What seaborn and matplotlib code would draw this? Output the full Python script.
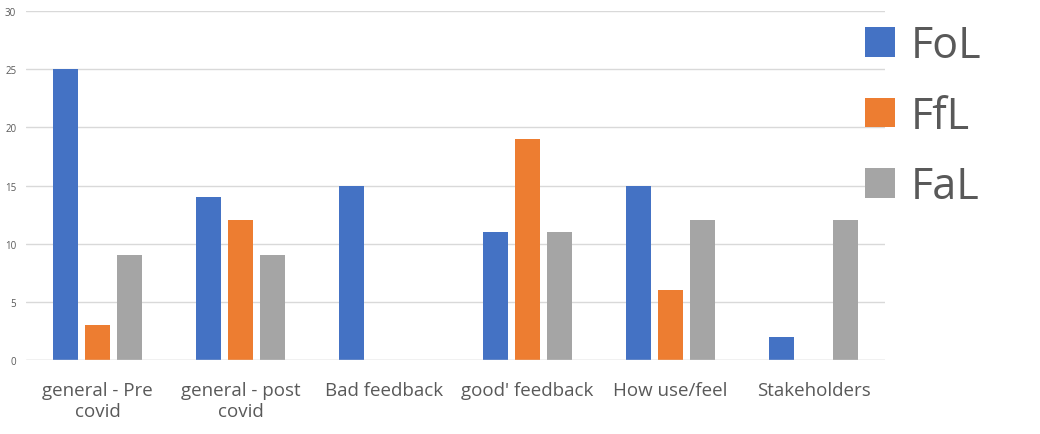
import seaborn as sns
import matplotlib.pyplot as plt
import pandas as pd

# chart values
categories = ["general - Pre\ncovid", "general - post\ncovid", "Bad feedback",
              "good' feedback", "How use/feel", "Stakeholders"]
series = ["FoL", "FfL", "FaL"]
fol = [25, 14, 15, 11, 15, 2]
ffl = [3, 12, 0, 19, 6, 0]
fal = [9, 9, 0, 11, 12, 12]
colors = ["#4472C4", "#ED7D31", "#A5A5A5"]

df = pd.DataFrame({
    "category": categories * 3,
    "series": [s for s in series for _ in categories],
    "value": fol + ffl + fal,
})

sns.set_theme(style="white")
plt.rcParams["font.family"] = ["Open Sans", "DejaVu Sans"]

fig = plt.figure(figsize=(10.4, 4.35), dpi=100)
ax = fig.add_axes([0.025, 0.17, 0.826, 0.8024])

sns.barplot(data=df, x="category", y="value", hue="series", hue_order=series,
            palette=colors, width=0.67, gap=0.22, ax=ax, errorbar=None,
            saturation=1, linewidth=0)

ax.set_ylim(0, 30)
ax.set_yticks(range(0, 31, 5))
ax.yaxis.grid(True, color="#D9D9D9", linewidth=1)
ax.set_axisbelow(True)
for s in ax.spines.values():
    s.set_visible(False)
ax.axhline(0, color="#D9D9D9", linewidth=1)
ax.set_xlabel("")
ax.set_ylabel("")
ax.tick_params(axis="y", labelsize=7, colors="#595959", length=0, pad=7)
ax.tick_params(axis="x", labelsize=13.5, colors="#595959", length=0, pad=15)
ax.set_xlim(-0.5, len(categories) - 0.5)

leg = ax.legend(loc="upper left", bbox_to_anchor=(0.942, 1.05), frameon=False,
                fontsize=31, handlelength=0.68, handleheight=0.68,
                labelspacing=0.6, handletextpad=0.38, borderaxespad=0.3)
for t in leg.get_texts():
    t.set_color("#595959")

plt.savefig("out.png", dpi=100)
plt.close()
